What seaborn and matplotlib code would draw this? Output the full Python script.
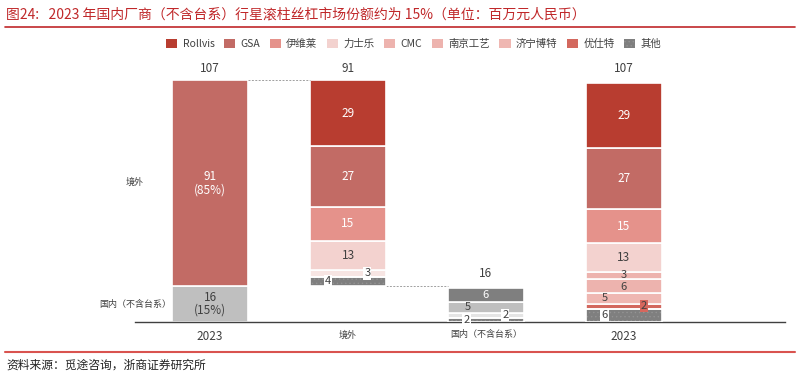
import matplotlib
matplotlib.use("Agg")
import matplotlib.pyplot as plt
import seaborn as sns
import numpy as np
from matplotlib.patches import Patch
from matplotlib.lines import Line2D

sns.set_theme(style="white")
plt.rcParams['font.family'] = ['Noto Sans CJK SC', 'DejaVu Sans']
plt.rcParams['hatch.linewidth'] = 0.5

# ---------------- data ----------------
x_labels = ["2023", "境外", "国内（不含台系）", "2023"]
legend_names = ["Rollvis", "GSA", "伊维莱", "力士乐", "CMC", "南京工艺", "济宁博特", "优仕特", "其他"]

# bar 1: total split into domestic / overseas
bar1_names = ["国内", "境外"]
bar1_values = [16, 91]
bar1_labels = ["16\n(15%)", "91\n(85%)"]

# bar 2: overseas breakdown (bottom -> top), floating on domestic total
bar2_base = 16
bar2_names = ["其他", "CMC", "力士乐", "伊维莱", "GSA", "Rollvis"]
bar2_values = [4, 3, 13, 15, 27, 29]

# bar 3: domestic (excluding Taiwan) breakdown
bar3_names = ["其他", "优仕特", "济宁博特", "南京工艺"]
bar3_values = [2, 2, 5, 6]

# bar 4: full 2023 breakdown
bar4_names = ["其他", "优仕特", "济宁博特", "南京工艺", "CMC", "力士乐", "伊维莱", "GSA", "Rollvis"]
bar4_values = [6, 2, 5, 6, 3, 13, 15, 27, 29]

totals = [107, 91, 16, 107]

# ---------------- style ----------------
pal = {"Rollvis": "#B83D30", "GSA": "#C26B65", "伊维莱": "#E5928B", "力士乐": "#F3D2CF",
       "CMC": "#EDB3AE", "南京工艺": "#EDB3AE", "济宁博特": "#EFB7B2", "优仕特": "#D3685E",
       "其他": "#7F7F7F"}
bar1_colors = ["#BFBFBF", pal["GSA"]]
bar2_colors = [pal["其他"], "#F7E5E3", pal["力士乐"], pal["伊维莱"], pal["GSA"], pal["Rollvis"]]
bar3_colors = ["#7F7F7F", "#E4E4E4", "#BFBFBF", "#7F7F7F"]
bar4_colors = [pal[n] for n in bar4_names]

W = 0.55
dark = "#404040"
FS = 8.5
FSS = 8

fig = plt.figure(figsize=(8, 3.78), dpi=100)
ax = fig.add_axes([0.169, 0.148, 0.812, 0.717])


def stack(ax, xpos, values, colors, names, base=0):
    bottoms = []
    b = base
    for v, c, n in zip(values, colors, names):
        if n == "其他":
            ax.bar(xpos, v, bottom=b, width=W, color=c, edgecolor="#939393",
                   linewidth=0, hatch="....", zorder=2)
            ax.bar(xpos, v, bottom=b, width=W, fill=False, edgecolor="white",
                   linewidth=1.2, zorder=3)
        else:
            ax.bar(xpos, v, bottom=b, width=W, color=c, edgecolor="white",
                   linewidth=1.2, zorder=2)
        bottoms.append(b)
        b += v
    return bottoms


# bar 1
b1 = stack(ax, 0, bar1_values, bar1_colors, bar1_names)
ax.text(0, b1[0] + bar1_values[0] / 2, bar1_labels[0], ha="center", va="center",
        fontsize=FS, color=dark, linespacing=1.0, zorder=5)
ax.text(0, b1[1] + bar1_values[1] / 2, bar1_labels[1], ha="center", va="center",
        fontsize=FS, color="white", linespacing=1.0, zorder=5)

# bar 2
b2 = stack(ax, 1, bar2_values, bar2_colors, bar2_names, base=bar2_base)
off2 = [-0.145, 0.14, 0, 0, 0, 0]
col2 = [dark, dark, dark, "white", "white", "white"]
box2 = [True, True, False, False, False, False]
for v, b, o, c, bx in zip(bar2_values, b2, off2, col2, box2):
    kw = dict(bbox=dict(boxstyle="square,pad=0.1", fc="white", ec="none")) if bx else {}
    ax.text(1 + o, b + v / 2, str(v), ha="center", va="center",
            fontsize=FSS if v < 10 else FS, color=c, zorder=5, **kw)

# bar 3
b3 = stack(ax, 2, bar3_values, bar3_colors, bar3_names)
off3 = [-0.14, 0.14, -0.13, 0]
col3 = [dark, dark, dark, "white"]
box3 = [True, True, False, False]
for v, b, o, c, bx in zip(bar3_values, b3, off3, col3, box3):
    kw = dict(bbox=dict(boxstyle="square,pad=0.1", fc="white", ec="none")) if bx else {}
    ax.text(2 + o, b + v / 2, str(v), ha="center", va="center",
            fontsize=FSS, color=c, zorder=5, **kw)

# bar 4
b4 = stack(ax, 3, bar4_values, bar4_colors, bar4_names)
off4 = [-0.14, 0.145, -0.14, 0, 0, 0, 0, 0, 0]
dy4 = [0, 0, 0, -0.4, 0.5, 0, 0, 0, 0]
col4 = [dark, dark, dark, dark, dark, dark, "white", "white", "white"]
box4 = ["white", "#D6675D", None, None, None, None, None, None, None]
for v, b, o, d, c, bx in zip(bar4_values, b4, off4, dy4, col4, box4):
    kw = dict(bbox=dict(boxstyle="square,pad=0.1", fc=bx, ec="none")) if bx else {}
    ax.text(3 + o, b + v / 2 + d, str(v), ha="center", va="center",
            fontsize=FSS if v < 10 else FS, color=c, zorder=5, **kw)

# totals
tops = [sum(bar1_values), bar2_base + sum(bar2_values), sum(bar3_values) + 1, sum(bar4_values) + 1]
for i, (t, lab) in enumerate(zip(tops, totals)):
    ax.text(i, t + 2.5, str(lab), ha="center", va="bottom", fontsize=FS, color=dark)

# connectors
ax.plot([W / 2, 1 - W / 2], [tops[0], tops[0]], ls=(0, (2, 1.5)), color="#A0A0A0", lw=0.7)
ax.plot([1 + W / 2, 2 - W / 2], [bar2_base, bar2_base], ls=(0, (2, 1.5)), color="#A0A0A0", lw=0.7)

# axes
ax.set_xlim(-0.543, 4.167)
ax.set_ylim(0, 120)
ax.set_yticks([])
ax.set_xticks(range(4))
ax.set_xticklabels(x_labels)
for i, t in enumerate(ax.get_xticklabels()):
    t.set_fontsize(8.5 if i in (0, 3) else 6.5)
    t.set_color(dark)
ax.tick_params(axis="x", length=0, pad=6)
sns.despine(ax=ax, left=True, top=True, right=True)
ax.spines["bottom"].set_color("#404040")
ax.spines["bottom"].set_linewidth(1.0)

# side labels
ax.text(-0.48, 62, "境外", ha="right", va="center", fontsize=6.5, color=dark)
ax.text(-0.28, 8, "国内（不含台系）", ha="right", va="center", fontsize=6.5, color=dark)

# legend
handles = []
for n in legend_names:
    if n == "其他":
        handles.append(Patch(facecolor=pal[n], edgecolor="#939393", linewidth=0, hatch="....", label=n))
    else:
        handles.append(Patch(facecolor=pal[n], edgecolor="none", label=n))
leg = fig.legend(handles=handles, loc="center", bbox_to_anchor=(0.517, 0.883), ncol=9,
                 frameon=False, fontsize=7.5, handlelength=1.1, handleheight=1.0,
                 handletextpad=0.5, columnspacing=0.9)
for t in leg.get_texts():
    t.set_color(dark)

# title and source
fig.text(0.008, 0.962, "图24:   2023 年国内厂商（不含台系）行星滚柱丝杠市场份额约为 15%（单位：百万元人民币）",
         ha="left", va="center", fontsize=10, color="#C0282A")
fig.add_artist(Line2D([0.006, 0.994], [0.928, 0.928], color="#C0282A", lw=1.2))
fig.add_artist(Line2D([0.006, 0.994], [0.07, 0.07], color="#D9534F", lw=1.5))
fig.text(0.008, 0.033, "资料来源：觅途咨询，浙商证券研究所", ha="left", va="center",
         fontsize=8.5, color="#222222")

fig.savefig("out.png", dpi=100, facecolor="white")
